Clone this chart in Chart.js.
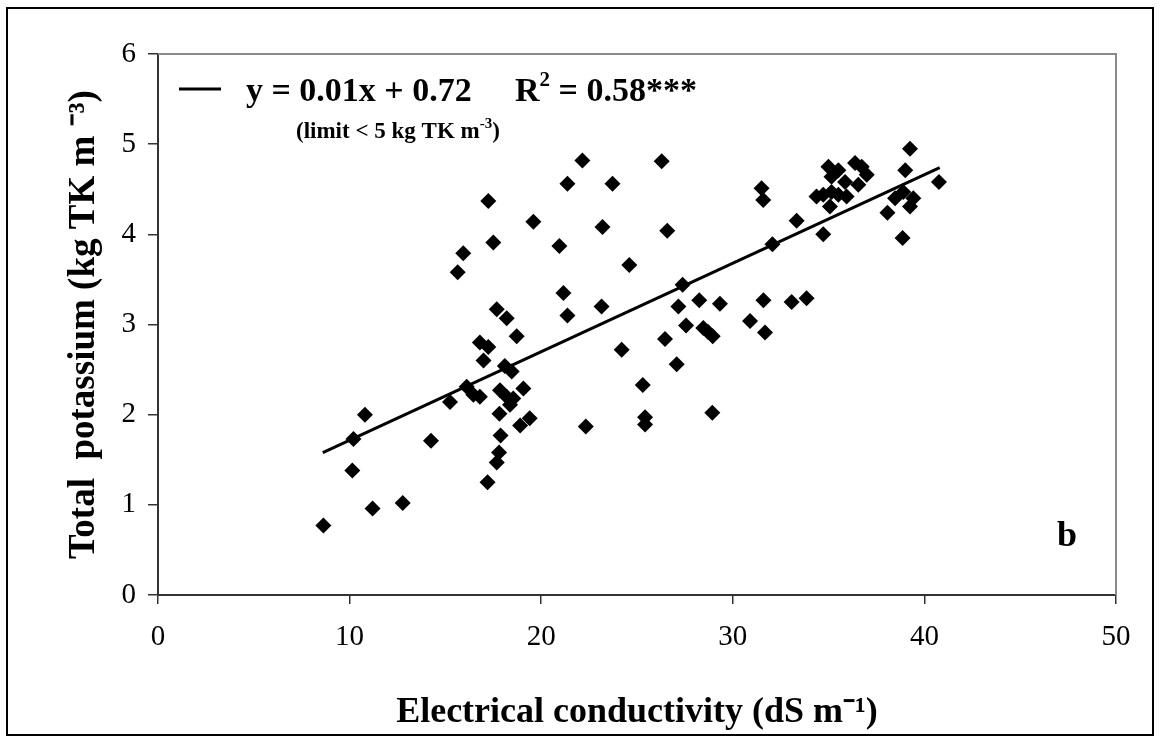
<!DOCTYPE html>
<html>
<head>
<meta charset="utf-8">
<script src="https://cdn.jsdelivr.net/npm/chart.js@4.4.1/dist/chart.umd.min.js"></script>
<style>
  html, body { margin: 0; padding: 0; background: #fff; }
  #wrap { position: relative; width: 1160px; height: 742px; }
</style>
</head>
<body>
<div id="wrap"><canvas id="c" width="1160" height="742"></canvas></div>
<script>
// ---- data ----
const ecValues = [
  8.63, 11.2, 12.77, 10.14, 10.8, 10.2, 14.25, 15.24, 17.2, 17.68,
  17.8, 17.88, 17.82, 18.37, 18.9, 19.4, 22.33, 22.15, 21.37, 23.72,
  17.24, 19.59, 23.2, 17.5, 20.95, 15.93, 15.64, 21.16, 23.15, 21.37,
  17.68, 18.2, 18.72, 16.8, 17.24, 16.99, 18.1, 18.46, 16.11, 16.46,
  16.8, 19.07, 17.85, 18.2, 18.54, 24.2, 26.29, 26.58, 24.6, 31.5,
  31.59, 33.33, 32.07, 27.38, 34.72, 27.16, 28.25, 29.33, 31.6, 33.07,
  33.85, 27.56, 28.46, 28.7, 28.95, 30.9, 31.68, 26.46, 27.07, 25.3,
  25.42, 25.42, 28.93, 39.25, 39.0, 40.76, 38.86, 38.07, 38.47, 38.9,
  39.42, 39.25, 34.99, 35.51, 35.15, 36.38, 36.73, 36.99, 36.55, 35.86,
  34.72, 35.15, 35.51, 35.94, 35.07, 34.37
];
const tkValues = [
  0.77, 0.96, 1.02, 1.38, 2.0, 1.73, 1.71, 2.14, 1.25, 1.47,
  1.58, 1.77, 2.01, 2.11, 1.88, 1.96, 1.87, 4.82, 4.56, 4.56,
  4.37, 4.14, 4.08, 3.91, 3.87, 3.79, 3.58, 3.35, 3.2, 3.1,
  3.17, 3.07, 2.87, 2.8, 2.75, 2.6, 2.54, 2.48, 2.31, 2.22,
  2.2, 2.29, 2.27, 2.2, 2.18, 2.72, 4.81, 4.04, 3.66, 4.51,
  4.38, 4.15, 3.89, 3.44, 4.0, 3.2, 3.27, 3.23, 3.27, 3.25,
  3.29, 2.99, 2.96, 2.92, 2.87, 3.04, 2.91, 2.84, 2.56, 2.33,
  1.97, 1.89, 2.02, 4.95, 4.71, 4.58, 3.96, 4.24, 4.4, 4.47,
  4.4, 4.31, 4.75, 4.71, 4.64, 4.79, 4.75, 4.66, 4.55, 4.58,
  4.44, 4.47, 4.44, 4.42, 4.31, 4.42
];
const trendX = [8.6, 40.8];
const trendY = [1.58, 4.74];
const xTicks = [0, 10, 20, 30, 40, 50];
const yTicks = [0, 1, 2, 3, 4, 5, 6];
const xTitle = 'Electrical conductivity (dS m\u207B\u00B9)';
const yTitle = 'Total  potassium (kg TK m \u207B\u00B3)';
const eqText = 'y = 0.01x + 0.72';
const r2Text = ['R', '2', ' = 0.58***'];
const limitText = ['(limit < 5 kg TK m', '-3', ')'];
const panelLabel = 'b';

const FONT = '"Liberation Serif", "Times New Roman", serif';

const points = ecValues.map((x, i) => ({ x: x, y: tkValues[i] }));
const trend = trendX.map((x, i) => ({ x: x, y: trendY[i] }));

function drawRuns(ctx, x, y, runs) {
  let cx = x;
  runs.forEach(r => {
    ctx.font = r.font;
    ctx.fillText(r.text, cx, y + (r.dy || 0));
    cx += ctx.measureText(r.text).width;
  });
}

const decor = {
  id: 'decor',
  beforeDraw(chart) {
    const ctx = chart.ctx;
    ctx.save();
    ctx.fillStyle = '#fff';
    ctx.fillRect(0, 0, chart.width, chart.height);
    ctx.restore();
  },
  beforeDatasetsDraw(chart) {
    const ctx = chart.ctx, a = chart.chartArea;
    ctx.save();
    ctx.strokeStyle = '#8a8a8a';
    ctx.lineWidth = 2;
    ctx.beginPath();
    ctx.moveTo(a.left, a.top);
    ctx.lineTo(a.right, a.top);
    ctx.lineTo(a.right, a.bottom);
    ctx.stroke();
    ctx.restore();
  },
  afterDraw(chart) {
    const ctx = chart.ctx;
    ctx.save();
    // outer frame
    ctx.strokeStyle = '#000';
    ctx.lineWidth = 2;
    ctx.strokeRect(7, 8, 1146, 727);
    // legend
    ctx.strokeStyle = '#000';
    ctx.lineWidth = 3;
    ctx.beginPath();
    ctx.moveTo(179, 89);
    ctx.lineTo(221, 89);
    ctx.stroke();
    ctx.fillStyle = '#000';
    ctx.textBaseline = 'alphabetic';
    ctx.textAlign = 'left';
    drawRuns(ctx, 246, 101, [{ text: eqText, font: 'bold 34px ' + FONT }]);
    drawRuns(ctx, 515, 101, [
      { text: r2Text[0], font: 'bold 34px ' + FONT },
      { text: r2Text[1], font: 'bold 21px ' + FONT, dy: -15 },
      { text: r2Text[2], font: 'bold 34px ' + FONT }
    ]);
    drawRuns(ctx, 296, 138, [
      { text: limitText[0], font: 'bold 23px ' + FONT },
      { text: limitText[1], font: 'bold 15px ' + FONT, dy: -10 },
      { text: limitText[2], font: 'bold 23px ' + FONT }
    ]);
    ctx.font = 'bold 36px ' + FONT;
    ctx.fillText(panelLabel, 1057, 546);
    ctx.restore();
  }
};

new Chart(document.getElementById('c'), {
  type: 'scatter',
  data: {
    datasets: [
      {
        label: 'trend',
        data: trend,
        showLine: true,
        borderColor: '#000',
        borderWidth: 3,
        pointRadius: 0,
        fill: false,
        order: 1
      },
      {
        label: 'samples',
        data: points,
        pointStyle: 'rectRot',
        pointRadius: 8,
        pointBackgroundColor: '#000',
        pointBorderColor: '#000',
        pointBorderWidth: 0,
        order: 0
      }
    ]
  },
  options: {
    responsive: false,
    devicePixelRatio: 1,
    animation: false,
    layout: { padding: { top: 54, right: 44, left: 0, bottom: 0 } },
    plugins: { legend: { display: false }, tooltip: { enabled: false } },
    scales: {
      x: {
        type: 'linear',
        min: 0, max: 50,
        afterBuildTicks(s) { s.ticks = xTicks.map(v => ({ value: v })); },
        afterFit(s) { s.height = 147; },
        ticks: { color: '#000', font: { family: FONT, size: 29 }, padding: 16, maxRotation: 0 },
        grid: { display: true, drawOnChartArea: false, drawTicks: true, tickLength: 9, color: '#333', lineWidth: 1.5 },
        border: { display: true, color: '#333', width: 2 },
        title: { display: true, text: xTitle, color: '#000', font: { family: FONT, size: 36, weight: 'bold' }, padding: { top: 0, bottom: 8 } }
      },
      y: {
        type: 'linear',
        min: 0, max: 6,
        afterBuildTicks(s) { s.ticks = yTicks.map(v => ({ value: v })); },
        afterFit(s) { s.width = 158; },
        ticks: { color: '#000', font: { family: FONT, size: 29 }, padding: 12 },
        grid: { display: true, drawOnChartArea: false, drawTicks: true, tickLength: 10, color: '#333', lineWidth: 1.5 },
        border: { display: true, color: '#333', width: 2 },
        title: { display: true, text: yTitle, color: '#000', font: { family: FONT, size: 37, weight: 'bold' }, padding: { top: 62, bottom: 0 } }
      }
    }
  },
  plugins: [decor]
});
</script>
</body>
</html>
